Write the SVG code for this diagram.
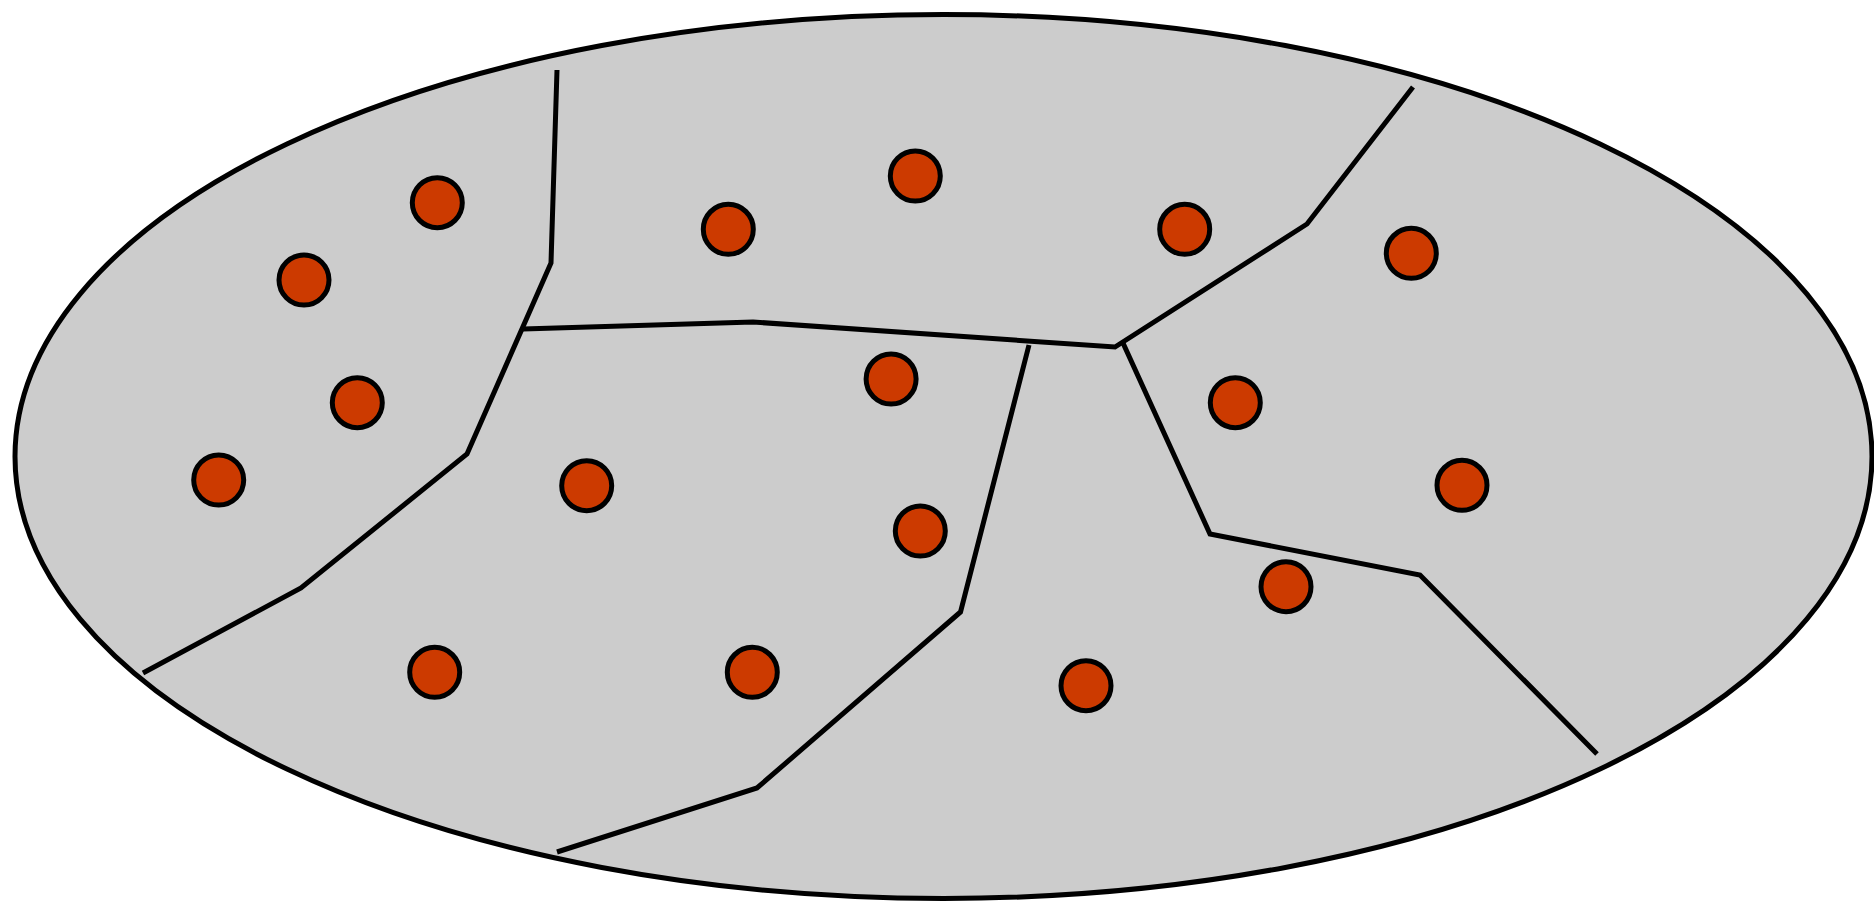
<svg xmlns="http://www.w3.org/2000/svg" width="1874" height="905" viewBox="0 0 1874 905">
<style>
.cell{fill:#cccccc;stroke:#000;stroke-width:5}
.edge{fill:none;stroke:#000;stroke-width:5;stroke-linejoin:miter}
.pt{fill:#cc3a00;stroke:#000;stroke-width:5}
</style>
<rect width="1874" height="905" fill="#fff"/>
<g id="region">
<ellipse class="cell" cx="943.5" cy="456.5" rx="928.5" ry="442"/>
</g>
<g id="connectors">
<polyline class="edge" points="557,70 551,263 467,454 301,588 143,673"/>
<polyline class="edge" points="523,329 753,322 1115,347 1307,224 1413,87"/>
<polyline class="edge" points="1029,345 960.5,612 757,788 557,852"/>
<polyline class="edge" points="1123,343 1210,534 1420,575 1597,754"/>
</g>
<g id="n1"><circle class="pt" cx="437.3" cy="202.7" r="25"/></g>
<g id="n2"><circle class="pt" cx="304" cy="280" r="25"/></g>
<g id="n3"><circle class="pt" cx="357.3" cy="402.7" r="25"/></g>
<g id="n4"><circle class="pt" cx="218.7" cy="480" r="25"/></g>
<g id="n5"><circle class="pt" cx="728.3" cy="229.3" r="25"/></g>
<g id="n6"><circle class="pt" cx="915.3" cy="176" r="25"/></g>
<g id="n7"><circle class="pt" cx="1184.7" cy="229.3" r="25"/></g>
<g id="n8"><circle class="pt" cx="1411.3" cy="253.3" r="25"/></g>
<g id="n9"><circle class="pt" cx="891.1" cy="379" r="25"/></g>
<g id="n10"><circle class="pt" cx="1235.3" cy="402.7" r="25"/></g>
<g id="n11"><circle class="pt" cx="586.7" cy="485.7" r="25"/></g>
<g id="n12"><circle class="pt" cx="1462" cy="485.3" r="25"/></g>
<g id="n13"><circle class="pt" cx="920.3" cy="531" r="25"/></g>
<g id="n14"><circle class="pt" cx="1286" cy="586.7" r="25"/></g>
<g id="n15"><circle class="pt" cx="434.7" cy="672.3" r="25"/></g>
<g id="n16"><circle class="pt" cx="752.3" cy="672.3" r="25"/></g>
<g id="n17"><circle class="pt" cx="1086" cy="685.7" r="25"/></g>
</svg>
